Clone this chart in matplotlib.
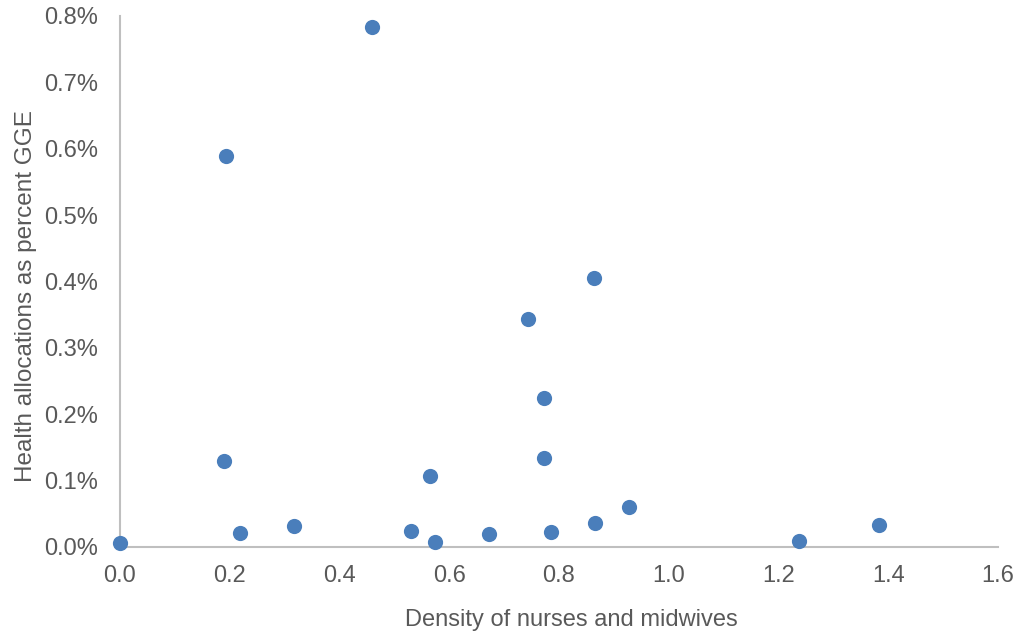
import matplotlib.pyplot as plt
from matplotlib.ticker import FuncFormatter

plt.rcParams['font.family'] = ['Liberation Sans', 'DejaVu Sans']

# density of nurses and midwives vs health allocations (% of GGE)
density = [0.0, 0.459, 0.193, 0.190, 0.219, 0.317, 0.530, 0.565, 0.574, 0.672,
           0.743, 0.773, 0.773, 0.785, 0.864, 0.866, 0.928, 1.237, 1.383]
health_pct = [0.006, 0.783, 0.589, 0.130, 0.021, 0.032, 0.024, 0.107, 0.008, 0.020,
              0.344, 0.225, 0.134, 0.023, 0.405, 0.036, 0.060, 0.009, 0.033]

grey = '#595959'
axis_col = '#bfbfbf'

fig = plt.figure(figsize=(10.21, 6.39), dpi=100)
ax = fig.add_axes([0.1175, 0.144, 0.86, 0.831])

ax.scatter(density, health_pct, s=120, color='#4a7ebb', zorder=3, clip_on=False,
           linewidths=0)

ax.set_xlim(0, 1.6)
ax.set_ylim(0, 0.8)
ax.set_xticks([0.0, 0.2, 0.4, 0.6, 0.8, 1.0, 1.2, 1.4, 1.6])
ax.set_yticks([0.0, 0.1, 0.2, 0.3, 0.4, 0.5, 0.6, 0.7, 0.8])
ax.xaxis.set_major_formatter(FuncFormatter(lambda v, p: f'{v:.1f}'))
ax.yaxis.set_major_formatter(FuncFormatter(lambda v, p: f'{v:.1f}%'))

for side in ['top', 'right']:
    ax.spines[side].set_visible(False)
for side in ['left', 'bottom']:
    ax.spines[side].set_color(axis_col)
    ax.spines[side].set_linewidth(1.5)

ax.tick_params(length=0, labelsize=17, colors=grey)
ax.tick_params(axis='x', pad=13)
ax.tick_params(axis='y', pad=16)
ax.set_xlabel('Density of nurses and midwives', fontsize=17, color=grey)
ax.set_ylabel('Health allocations as percent GGE', fontsize=17.5, color=grey)
# titles sit a bit off-centre in the original
ax.xaxis.set_label_coords(0.514, -0.117)
ax.yaxis.set_label_coords(-0.095, 0.472)

fig.savefig('out.png', dpi=100)
